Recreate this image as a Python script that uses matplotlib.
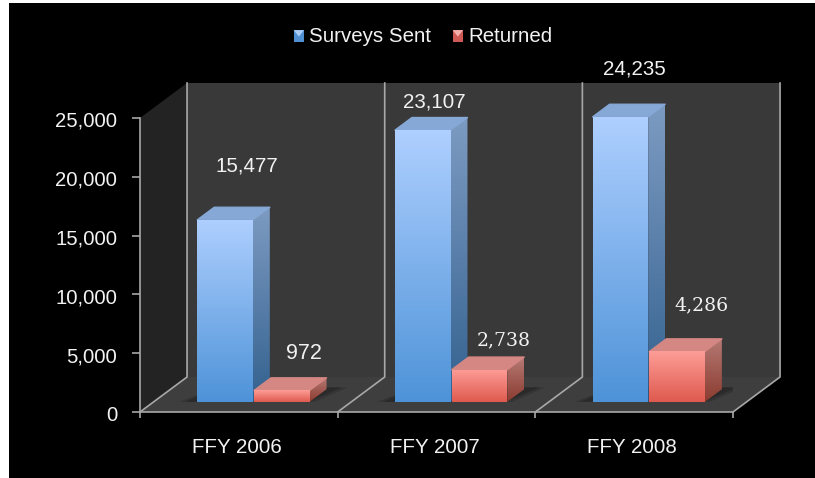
import numpy as np
import matplotlib
matplotlib.use("Agg")
import matplotlib.pyplot as plt
from matplotlib.colors import LinearSegmentedColormap
from matplotlib.legend_handler import HandlerBase
from matplotlib.patches import Polygon, Patch, Rectangle
from matplotlib.transforms import ScaledTranslation

plt.rcParams['font.family'] = ['Liberation Sans', 'DejaVu Sans']

years = ['FFY 2006', 'FFY 2007', 'FFY 2008']
sent = [15477, 23107, 24235]
returned = [972, 2738, 4286]
sent_labels = ['15,477', '23,107', '24,235']
returned_labels = ['972', '2,738', '4,286']
y_ticks = [0, 5000, 10000, 15000, 20000, 25000]

# depth of the fake 3d box, in axis units
DX = 0.238
DY = 2976
BAR_W = 0.281
BAR_START = 0.221
D_FRONT, D_BACK = 0.29, 0.65


def pt(x, v, d=0.0):
    return (x + d * DX, v + d * DY)


def grad(ax, poly, top, bottom, z):
    # vertical gradient clipped to the polygon
    p = Polygon(poly, closed=True, fc='none', ec='none', transform=ax.transData, clip_on=False)
    ax.add_patch(p)
    xs = [a[0] for a in poly]
    ys = [a[1] for a in poly]
    cm = LinearSegmentedColormap.from_list('g', [top, bottom])
    im = ax.imshow(np.linspace(0, 1, 128).reshape(-1, 1), cmap=cm, aspect='auto',
                   extent=(min(xs), max(xs), min(ys), max(ys)), origin='upper',
                   zorder=z, interpolation='bilinear')
    im.set_clip_box(fig.bbox)
    im.set_clip_path(p)


def bar3d(ax, x, v, front, side, top, z):
    w = BAR_W
    bottom = 0
    grad(ax, [pt(x, bottom, D_FRONT), pt(x + w, bottom, D_FRONT), pt(x + w, v, D_FRONT), pt(x, v, D_FRONT)],
         front[0], front[1], z + 0.2)
    grad(ax, [pt(x + w, bottom, D_FRONT), pt(x + w, bottom, D_BACK), pt(x + w, v, D_BACK), pt(x + w, v, D_FRONT)],
         side[0], side[1], z)
    ax.add_patch(Polygon([pt(x, v, D_FRONT), pt(x + w, v, D_FRONT), pt(x + w, v, D_BACK), pt(x, v, D_BACK)],
                         closed=True, fc=top, ec=top, lw=1, joinstyle='round', zorder=z + 0.1, clip_on=False))


class GemHandler(HandlerBase):
    # small legend square with a lighter wedge on top
    def create_artists(self, legend, orig, xd, yd, width, height, fontsize, trans):
        y = yd + 1.5
        base = Rectangle((xd, y), width, height, fc=orig.get_facecolor(), ec='none', transform=trans)
        wedge = Polygon([(xd, y + height), (xd + width, y + height), (xd + width / 2, y + height * 0.45)],
                        closed=True, fc=orig.get_edgecolor(), ec='none', transform=trans)
        return [base, wedge]


fig = plt.figure(figsize=(8.15, 4.78), dpi=100, facecolor='white')
fig.patches.append(Rectangle((9 / 815, 0), 806 / 815, 475 / 478, transform=fig.transFigure,
                             fc='black', ec='none', zorder=-10))
ax = fig.add_axes([140 / 815, (478 - 412) / 478, 593 / 815, 294 / 478])
ax.set_facecolor('none')

line = '#a8a8a8'
# walls and floor
ax.add_patch(Polygon([pt(0, 0, 1), pt(3, 0, 1), pt(3, 25000, 1), pt(0, 25000, 1)], closed=True,
                     fc='#393939', ec='none', zorder=1, clip_on=False))
ax.add_patch(Polygon([pt(0, 0), pt(0, 25000), pt(0, 25000, 1), pt(0, 0, 1)], closed=True,
                     fc='#232323', ec='none', zorder=1, clip_on=False))
ax.add_patch(Polygon([pt(0, 0), pt(3, 0), pt(3, 0, 1), pt(0, 0, 1)], closed=True,
                     fc='#3e3e3e', ec='none', zorder=1, clip_on=False))
for i in range(4):
    xs, ys = zip(pt(i, 0), pt(i, 0, 1), pt(i, 25000, 1))
    ax.plot(xs, ys, color=line, lw=1.2, zorder=2, clip_on=False)

# shadows on the floor
for i in range(3):
    for grow, col in [(0.03, '#343434'), (0.0, '#2a2a2a')]:
        ax.add_patch(Polygon([pt(i + BAR_START - 0.06 - grow, 0, D_FRONT), pt(i + BAR_START + 2 * BAR_W + grow, 0, D_FRONT),
                              pt(i + BAR_START + 2 * BAR_W + 0.07 + grow, 0, D_BACK + 0.05),
                              pt(i + BAR_START, 0, D_BACK + 0.05)],
                             closed=True, fc=col, ec='none', zorder=2.5))

for i in range(3):
    x0 = i + BAR_START
    bar3d(ax, x0, sent[i], ('#aecfff', '#4e93d8'), ('#7d9bc2', '#33618f'), '#86a8d6', 3)
    bar3d(ax, x0 + BAR_W + 0.006, returned[i], ('#fd9d97', '#df5a4e'), ('#b57a74', '#8b3b30'), '#d58783', 4)

# value labels, offsets in pixels from the top of the front face
sent_off = [(22, 54), (12, 28), (14, 48)]
ret_off = [(23, 37), (25, 29), (25, 46)]
ret_font = ['Liberation Sans', 'DejaVu Serif', 'DejaVu Serif']
ret_size = [15.5, 13.6, 13.6]
for i in range(3):
    x0 = i + BAR_START
    ax.annotate(sent_labels[i], pt(x0 + BAR_W / 2, sent[i], D_FRONT), xytext=sent_off[i], textcoords='offset pixels',
                ha='center', va='center', color='#f2f2f2', fontsize=14.8, annotation_clip=False, zorder=6)
    ax.annotate(returned_labels[i], pt(x0 + BAR_W * 1.5, returned[i], D_FRONT), xytext=ret_off[i],
                textcoords='offset pixels', ha='center', va='center', color='#f2f2f2', fontsize=ret_size[i],
                family=ret_font[i], annotation_clip=False, zorder=6)

ax.set_xlim(0, 3)
ax.set_ylim(0, 25000)
ax.set_yticks(y_ticks)
ax.set_yticklabels([f'{v:,}' for v in y_ticks])
ax.set_xticks([0, 1, 2, 3])
ax.set_xticklabels([])
ax.set_xticks([0.49, 1.49, 2.49], minor=True)
ax.set_xticklabels(years, minor=True)
ax.tick_params(axis='x', which='minor', length=0, pad=19, labelcolor='#f2f2f2', labelsize=14.8)
ax.tick_params(axis='x', which='major', length=4.5, color=line, width=1.2)
ax.tick_params(axis='y', length=5.8, color=line, width=1.2, labelcolor='#f2f2f2', labelsize=14.6, pad=10.5)
# the reference's tick labels sit a little under their ticks
for lab in ax.get_yticklabels():
    lab.set_transform(lab.get_transform() + ScaledTranslation(0, -1.5 / 100, fig.dpi_scale_trans))
for s in ['top', 'right']:
    ax.spines[s].set_visible(False)
for s in ['left', 'bottom']:
    ax.spines[s].set_color(line)
    ax.spines[s].set_linewidth(1.2)
    ax.spines[s].set_zorder(2)

handles = [Patch(fc='#4f8fd2', ec='#a9cdf5', label='Surveys Sent'), Patch(fc='#cf5a55', ec='#f3b1ab', label='Returned')]
fig.legend(handles=handles, handler_map={Patch: GemHandler()}, loc='center', bbox_to_anchor=(423 / 815, (478 - 37) / 478),
           ncol=2, frameon=False, fontsize=14.8, labelcolor='#f2f2f2', handlelength=0.5, handleheight=0.5,
           handletextpad=0.25, columnspacing=1.05, borderpad=0)

fig.savefig('out.png', dpi=100, facecolor=fig.get_facecolor())
